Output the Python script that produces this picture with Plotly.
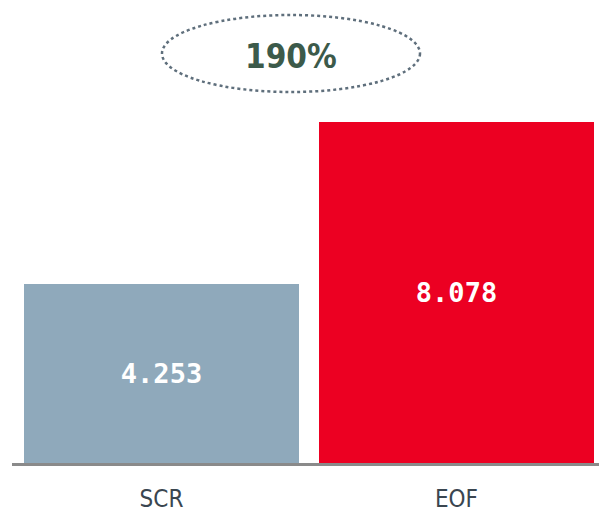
import plotly.graph_objects as go

categories = ["SCR", "EOF"]
values = [4.253, 8.078]
value_labels = ["4.253", "8.078"]
bar_colors = ["#8fa9bb", "#ec0022"]
ratio_label = "190%"

W, H = 599, 513
ml, mr, mt, mb = 12, 0, 0, 50
pw, ph = W - ml - mr, H - mt - mb
NARROW = "DejaVu Sans Condensed, Liberation Sans Narrow, Roboto Condensed, Liberation Sans, sans-serif"

fig = go.Figure(go.Bar(
    x=[0, 1], y=values, width=0.932,
    marker=dict(color=bar_colors, line=dict(width=0)),
    text=value_labels, textposition="inside", insidetextanchor="middle",
    textangle=0,
    textfont=dict(family="DejaVu Sans Mono", size=27, color="white", weight="bold"),
))

def px(x):
    return (x - ml) / pw

def py(y):
    return 1 - (y - mt) / ph

fig.add_shape(type="circle", xref="paper", yref="paper",
              x0=px(162), x1=px(420), y0=py(92), y1=py(15),
              line=dict(color="#5f6f7c", width=2.5, dash="dot"))
fig.add_annotation(xref="paper", yref="paper", x=px(291), y=py(56),
                   text=ratio_label, showarrow=False, yanchor="middle",
                   font=dict(family=NARROW, size=33, color="#3c5a4a", weight="bold"))

fig.update_layout(
    width=W, height=H, margin=dict(l=ml, r=mr, t=mt, b=mb, autoexpand=False),
    paper_bgcolor="white", plot_bgcolor="white", showlegend=False, bargap=0,
    xaxis=dict(range=[-0.5068, 1.483], tickvals=[0, 1], ticktext=categories,
               automargin=False,
               showline=True, linecolor="#8a8a8a", linewidth=3, showgrid=False,
               zeroline=False, ticks="outside", ticklen=12, tickcolor="rgba(0,0,0,0)",
               tickfont=dict(family=NARROW, size=24, color="#3a4650")),
    yaxis=dict(range=[0, ph / 42.2], visible=False, showgrid=False, zeroline=False,
               automargin=False),
)

fig.write_html("out.html", config={"displayModeBar": False},
               post_script="document.body.style.margin='0';document.body.style.overflow='hidden';")
